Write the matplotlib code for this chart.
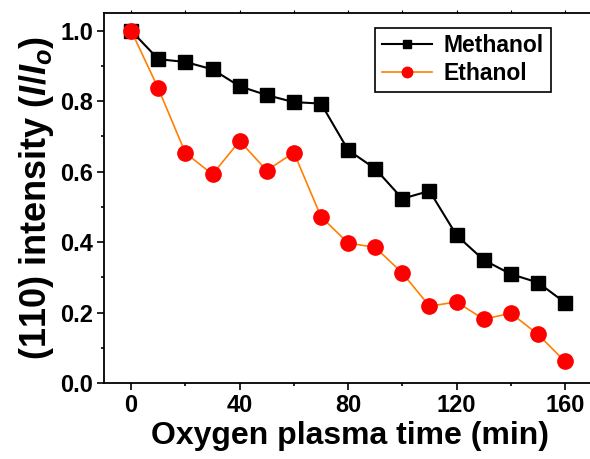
import numpy as np
import matplotlib
matplotlib.use("Agg")
import matplotlib.pyplot as plt
from matplotlib.ticker import MultipleLocator

plt.rcParams["font.family"] = ["Liberation Sans", "DejaVu Sans"]
plt.rcParams["font.weight"] = "bold"
plt.rcParams["mathtext.fontset"] = "custom"
plt.rcParams["mathtext.rm"] = "Liberation Sans:bold"
plt.rcParams["mathtext.it"] = "Liberation Sans:italic:bold"

# plasma exposure time (min) and normalised (110) peak intensity
time_min = [0, 10, 20, 30, 40, 50, 60, 70, 80, 90, 100, 110, 120, 130, 140, 150, 160]
methanol = [1.000, 0.919, 0.911, 0.890, 0.842, 0.817, 0.797, 0.793, 0.661, 0.608,
            0.523, 0.545, 0.419, 0.349, 0.309, 0.285, 0.228]
ethanol = [1.000, 0.836, 0.653, 0.592, 0.687, 0.603, 0.654, 0.472, 0.397, 0.385,
           0.312, 0.218, 0.230, 0.181, 0.198, 0.138, 0.061]

fig = plt.figure(figsize=(5.9, 4.59), dpi=100)
ax = fig.add_axes([0.1763, 0.1656, 1.0102 - 0.1763, 0.9717 - 0.1656])

ax.plot(time_min, methanol, color="black", lw=1.5, marker="s", ms=10,
        mfc="black", mec="black", label="Methanol", zorder=3)
ax.plot(time_min, ethanol, color="#ff8000", lw=1.2, marker="o", ms=11,
        mfc="#ff0000", mec="#ff0000", label="Ethanol", zorder=4)

ax.set_xlim(-10, 171.4)
ax.set_ylim(0, 1.05)
ax.xaxis.set_major_locator(MultipleLocator(40))
ax.xaxis.set_minor_locator(MultipleLocator(20))
ax.yaxis.set_major_locator(MultipleLocator(0.2))
ax.yaxis.set_minor_locator(MultipleLocator(0.1))
ax.yaxis.set_major_formatter(plt.FormatStrFormatter("%.1f"))

for s in ax.spines.values():
    s.set_linewidth(1.3)
ax.tick_params(which="major", direction="out", length=5, width=1.2,
               labelsize=17, pad=3)
ax.tick_params(which="minor", direction="out", length=2.5, width=1.2)
ax.tick_params(axis="x", which="both", top=True, labeltop=False)
# short, thin ticks along the top edge
for t in ax.xaxis.get_ticklines(minor=False)[1::2] + ax.xaxis.get_ticklines(minor=True)[1::2]:
    t.set_markersize(2)
    t.set_markeredgewidth(0.8)

ax.set_xlabel("Oxygen plasma time (min)", fontsize=23, fontweight="bold", labelpad=3)
ax.set_ylabel(r"(110) intensity ($I/I_o$)", fontsize=26, fontweight="bold", labelpad=3)

leg = ax.legend(loc="upper left", bbox_to_anchor=(0.5505, 0.9607), fontsize=16.5,
                frameon=True, fancybox=False, edgecolor="black", framealpha=1,
                handlelength=2.2, handletextpad=0.5, borderpad=0.3,
                labelspacing=0.2, borderaxespad=0)
leg.get_frame().set_linewidth(1.2)
leg.legend_handles[0].set_markersize(5.5)
leg.legend_handles[1].set_markersize(7.5)

fig.savefig("out.png", dpi=100)
